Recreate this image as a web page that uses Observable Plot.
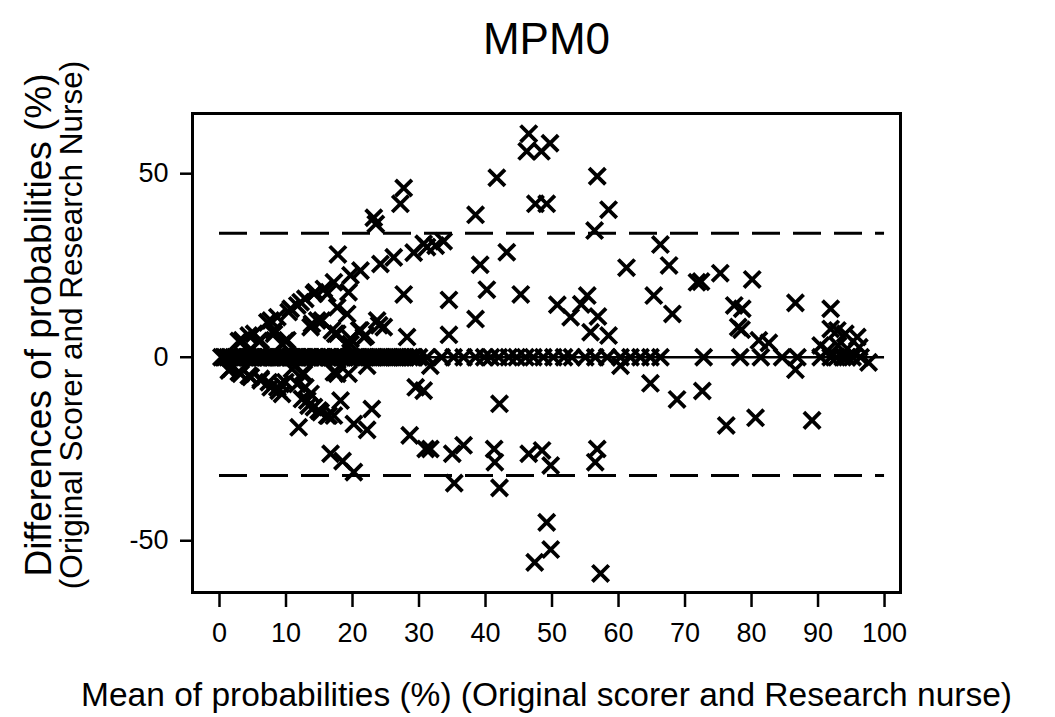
<!DOCTYPE html>
<html>
<head>
<meta charset="utf-8">
<script src="https://cdn.jsdelivr.net/npm/d3@7"></script>
<script src="https://cdn.jsdelivr.net/npm/@observablehq/plot@0.6"></script>
<style>
  html, body { margin: 0; padding: 0; background: #fff; }
  svg { display: block; }
</style>
</head>
<body>
<div id="chart"></div>
<script>
// Title and labels
const title = "MPM0";
const xLabel = "Mean of probabilities (%) (Original scorer and Research nurse)";
const yLabel1 = "Differences of probabilities (%)";
const yLabel2 = "(Original Scorer and Research Nurse)";
const xTicks = [0, 10, 20, 30, 40, 50, 60, 70, 80, 90, 100];
const yTicks = [-50, 0, 50];

// Limits of agreement
const upperLimit = 33.8;
const lowerLimit = -32.2;

// Points lying on zero difference (mean %)
const zeroMean = [0.3, 0.8, 1.2, 1.7, 2.1, 2.6, 3.0, 3.5, 4.0, 4.4, 4.9, 5.3, 5.8, 6.3, 6.7, 7.2, 7.7, 8.1, 8.6, 9.1,
  9.5, 10.0, 10.5, 11.0, 11.4, 11.9, 12.4, 12.9, 13.3, 13.8, 14.3, 14.8, 15.3, 15.8, 16.3, 16.8, 17.3, 17.8, 18.3, 18.8,
  19.3, 19.8, 20.3, 20.9, 21.4, 22.0, 22.6, 23.2, 23.8, 24.4, 25.0, 25.6, 26.2, 26.8, 27.4, 28.0, 28.6, 29.3, 30.0,
  0.6, 1.5, 2.4, 3.3, 4.2, 5.1, 6.0, 6.9, 7.9, 8.8, 9.8, 10.7, 11.7, 12.6, 13.6, 14.5, 15.5, 16.5, 17.5, 18.5,
  19.5, 20.6, 21.7, 22.9, 24.1, 25.3, 26.5, 27.7, 29.0,
  31.2, 33.4, 35.2, 36.7, 38.5, 39.8, 40.8, 42.0, 43.5, 44.7, 46.0, 47.2, 48.7, 50.2, 51.8, 53.0, 55.0, 56.5, 58.3,
  60.3, 61.8, 63.3, 64.8, 66.3, 72.8, 78.3, 81.4, 84.6, 86.9, 90.4, 91.9, 92.8, 93.7, 94.4, 95.2, 96.4];

// Positive differences
const posMean = [3.4, 2.9, 4.4, 5.2, 5.9, 6.2, 7.2, 7.7, 8.2, 8.2, 8.7, 9.4, 9.9, 10.2, 10.4, 10.7, 11.7, 12.2, 12.9, 13.7,
  13.9, 14.2, 14.4, 14.7, 15.4, 15.7, 16.2, 16.9, 17.2, 17.4, 17.7, 17.7, 17.8, 19.2, 19.2, 19.4, 19.7, 19.7, 19.7, 21.0,
  21.2, 21.2, 21.7, 22.0, 23.2, 23.5, 23.7, 24.0, 24.2, 24.7, 26.2, 27.2, 27.7, 27.7, 28.2, 29.2, 30.7, 31.2, 32.5, 33.7,
  34.5, 34.5, 38.5, 38.5, 39.2, 40.2, 41.7, 43.2, 45.3, 46.2, 46.5, 47.5, 48.4, 49.2, 49.7, 50.8, 52.8, 54.4, 55.3, 55.8,
  56.4, 56.8, 56.9, 58.5, 58.5, 61.2, 65.3, 66.3, 67.6, 68.1, 71.8, 72.4, 75.3, 77.4, 78.6, 78.0, 78.5, 80.1, 81.1, 82.6,
  86.6, 90.4, 91.4, 91.9, 91.9, 92.9, 93.0, 94.1, 94.4, 95.9, 96.2];
const posDiff = [4.6, 4.4, 5.9, 6.4, 4.4, 4.6, 9.5, 10.0, 7.3, 6.4, 10.9, 3.6, 4.4, 4.6, 12.3, 13.2, 14.1, 15.0, 15.9, 8.2,
  9.1, 17.3, 17.7, 10.0, 10.0, 18.6, 17.3, 7.3, 20.4, 6.4, 13.6, 6.4, 28.0, 11.8, 3.2, 17.7, 22.3, 5.0, 3.6, 7.3,
  23.6, 7.3, 5.5, 5.9, 38.0, 36.3, 10.0, 8.7, 25.4, 8.2, 27.2, 41.8, 46.1, 17.1, 5.5, 28.5, 30.9, 30.0, 30.4, 31.6,
  15.6, 6.1, 38.8, 10.4, 25.2, 18.4, 48.9, 28.6, 17.1, 56.1, 60.9, 41.8, 56.1, 41.8, 58.3, 14.3, 10.9, 14.4, 16.8, 6.8,
  34.5, 49.3, 11.1, 40.2, 5.9, 24.4, 16.8, 30.7, 25.0, 11.8, 20.4, 20.6, 22.9, 14.1, 13.2, 8.2, 7.5, 21.2, 4.6, 3.9,
  14.8, 3.2, 1.8, 13.2, 7.7, 7.3, 3.2, 6.4, 2.3, 5.5, 2.7];

// Negative differences
const negMean = [1.4, 1.7, 2.9, 3.2, 4.4, 4.7, 6.2, 6.2, 7.4, 7.7, 8.7, 8.9, 9.2, 9.4, 9.9, 10.9, 11.7, 11.9, 12.4, 12.4,
  12.7, 12.9, 13.2, 13.4, 13.7, 14.2, 14.9, 15.2, 16.2, 16.4, 16.7, 17.2, 17.2, 17.7, 18.2, 18.5, 19.4, 20.2, 20.2, 22.2,
  22.2, 22.9, 29.5, 28.6, 30.7, 31.0, 31.7, 31.7, 35.0, 35.3, 36.7, 41.3, 41.4, 42.1, 42.1, 46.5, 47.4, 48.5, 49.2, 49.8,
  49.8, 56.5, 56.8, 57.3, 60.3, 64.8, 68.8, 72.6, 76.2, 80.6, 86.6, 89.1, 97.6];
const negDiff = [-3.6, -3.1, -4.1, -4.5, -5.0, -5.4, -5.9, -6.3, -6.8, -8.2, -8.2, -9.1, -7.3, -10.0, -6.8, -3.2, -7.3, -19.1, -4.5, -11.4,
  -4.5, -8.2, -11.8, -13.2, -10.0, -13.6, -14.5, -15.0, -15.9, -15.9, -26.3, -15.9, -4.1, -4.5, -11.8, -28.3, -4.5, -18.2, -31.3, -2.3,
  -19.8, -14.1, -8.2, -21.3, -9.1, -25.0, -25.0, -2.3, -26.3, -34.3, -24.0, -25.0, -28.6, -12.7, -35.6, -26.3, -55.9, -25.4, -45.0, -29.5,
  -52.4, -28.6, -25.0, -58.9, -2.3, -7.1, -11.5, -9.2, -18.6, -16.5, -3.4, -17.2, -1.4];

const points = [
  ...zeroMean.map(m => ({mean: m, diff: 0})),
  ...posMean.map((m, i) => ({mean: m, diff: posDiff[i]})),
  ...negMean.map((m, i) => ({mean: m, diff: negDiff[i]}))
];

const FONT = "'Liberation Sans', Arial, Helvetica, sans-serif";

const chart = Plot.plot({
  width: 1055,
  height: 717,
  marginLeft: 192,
  marginRight: 155,
  marginTop: 113,
  marginBottom: 125,
  style: {fontFamily: FONT, background: "#fff", color: "#000"},
  x: {domain: [-4.06, 102.4]},
  y: {domain: [-64.1, 66.4]},
  marks: [
    Plot.frame({stroke: "#000", strokeWidth: 3}),
    Plot.axisX(xTicks, {tickSize: 15, tickPadding: 15, strokeWidth: 2.5, fontSize: 27, label: null, tickFormat: d => String(d)}),
    Plot.axisY(yTicks, {tickSize: 12, tickPadding: 12, strokeWidth: 2.5, fontSize: 27, label: null, tickFormat: d => String(d)}),
    Plot.ruleY([0], {x1: 0, x2: 100, stroke: "#000", strokeWidth: 2.5}),
    Plot.ruleY([upperLimit, lowerLimit], {x1: 0, x2: 100, stroke: "#000", strokeWidth: 3, strokeDasharray: "28,13"}),
    Plot.dot(points, {x: "mean", y: "diff", symbol: "times", r: 7.5, stroke: "#000", strokeWidth: 3.8}),
    Plot.text([title], {frameAnchor: "top", lineAnchor: "middle", dy: -74, fontSize: 44, fill: "#000"}),
    Plot.text([xLabel], {frameAnchor: "bottom", lineAnchor: "middle", dy: 103, fontSize: 33.5, fill: "#000"}),
    Plot.text([yLabel1], {frameAnchor: "left", textAnchor: "middle", lineAnchor: "middle", dx: -153, dy: -28, rotate: -90, fontSize: 37, fill: "#000"}),
    Plot.text([yLabel2], {frameAnchor: "left", textAnchor: "middle", lineAnchor: "middle", dx: -121, dy: -28, rotate: -90, fontSize: 31.5, fill: "#000"})
  ]
});

document.getElementById("chart").appendChild(chart);
</script>
</body>
</html>
